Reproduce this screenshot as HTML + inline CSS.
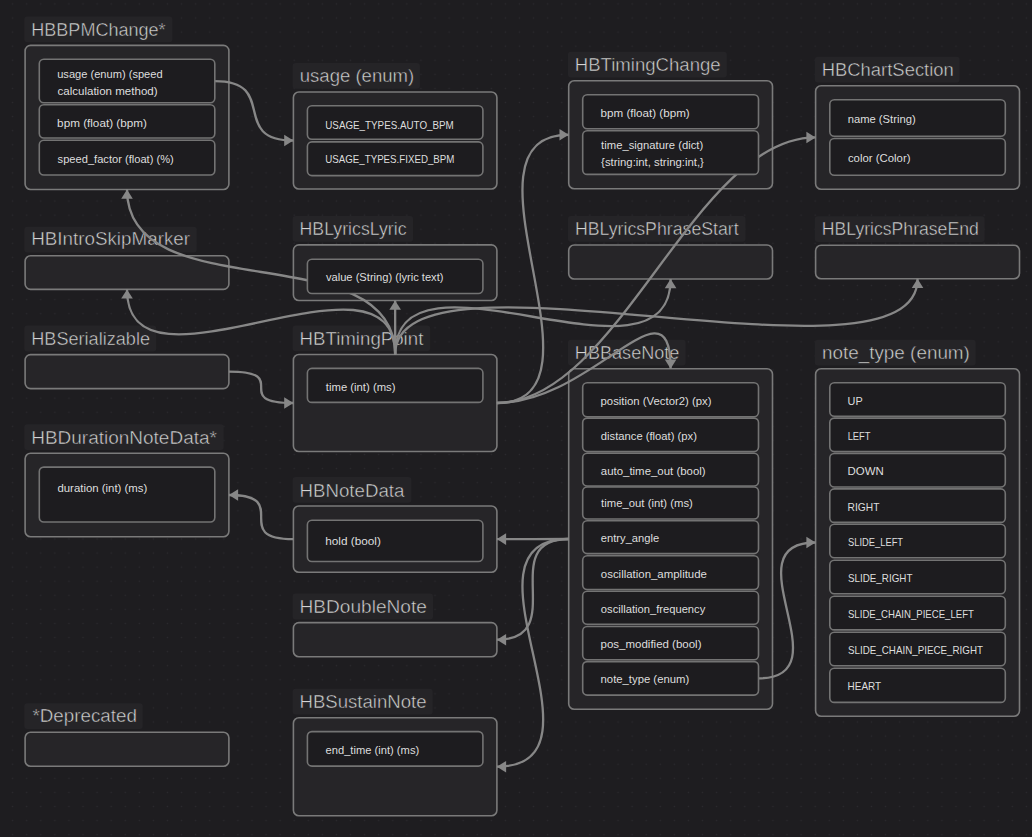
<!DOCTYPE html>
<html><head><meta charset="utf-8"><title>Canvas</title>
<style>
html,body{margin:0;padding:0;background:#1e1d20;width:1032px;height:837px;overflow:hidden}
svg{display:block;font-family:"Liberation Sans",sans-serif}
</style></head><body>
<svg width="1032" height="837" viewBox="0 0 1032 837">
<defs><pattern id="dots" x="5.6" y="-3.1" width="14.08" height="14.08" patternUnits="userSpaceOnUse"><circle cx="7" cy="7" r="0.75" fill="#2b2a2e"/></pattern></defs>
<rect width="1032" height="837" fill="#1e1d20"/>
<rect width="1032" height="837" fill="url(#dots)"/>
<g><rect x="24.30" y="16.40" width="148.10" height="25.8" rx="3" fill="#252427"/><rect x="25.10" y="45.40" width="203.80" height="144.10" rx="5.5" fill="#262528" stroke="#7a7a7a" stroke-width="1.6"/><rect x="292.60" y="63.00" width="127.30" height="25.8" rx="3" fill="#252427"/><rect x="293.40" y="92.00" width="203.50" height="97.00" rx="5.5" fill="#262528" stroke="#7a7a7a" stroke-width="1.6"/><rect x="567.90" y="51.70" width="158.90" height="25.8" rx="3" fill="#252427"/><rect x="568.70" y="80.70" width="203.80" height="108.10" rx="5.5" fill="#262528" stroke="#7a7a7a" stroke-width="1.6"/><rect x="814.80" y="56.70" width="144.80" height="25.8" rx="3" fill="#252427"/><rect x="815.60" y="85.70" width="203.90" height="103.50" rx="5.5" fill="#262528" stroke="#7a7a7a" stroke-width="1.6"/><rect x="24.30" y="226.70" width="172.40" height="25.8" rx="3" fill="#252427"/><rect x="25.10" y="255.70" width="203.80" height="33.70" rx="5.5" fill="#262528" stroke="#7a7a7a" stroke-width="1.6"/><rect x="292.60" y="215.90" width="120.50" height="25.8" rx="3" fill="#252427"/><rect x="293.40" y="244.90" width="203.50" height="55.60" rx="5.5" fill="#262528" stroke="#7a7a7a" stroke-width="1.6"/><rect x="567.90" y="216.00" width="177.60" height="25.8" rx="3" fill="#252427"/><rect x="568.70" y="245.00" width="203.80" height="34.00" rx="5.5" fill="#262528" stroke="#7a7a7a" stroke-width="1.6"/><rect x="814.80" y="216.20" width="169.80" height="25.8" rx="3" fill="#252427"/><rect x="815.60" y="245.20" width="203.90" height="33.60" rx="5.5" fill="#262528" stroke="#7a7a7a" stroke-width="1.6"/><rect x="24.30" y="325.60" width="131.90" height="25.8" rx="3" fill="#252427"/><rect x="25.10" y="354.60" width="203.80" height="34.00" rx="5.5" fill="#262528" stroke="#7a7a7a" stroke-width="1.6"/><rect x="292.60" y="325.50" width="137.60" height="25.8" rx="3" fill="#252427"/><rect x="293.40" y="354.50" width="203.50" height="97.00" rx="5.5" fill="#262528" stroke="#7a7a7a" stroke-width="1.6"/><rect x="567.90" y="339.70" width="117.70" height="25.8" rx="3" fill="#252427"/><rect x="568.70" y="368.70" width="203.80" height="340.60" rx="5.5" fill="#262528" stroke="#7a7a7a" stroke-width="1.6"/><rect x="814.80" y="339.70" width="160.90" height="25.8" rx="3" fill="#252427"/><rect x="815.60" y="368.70" width="203.90" height="347.60" rx="5.5" fill="#262528" stroke="#7a7a7a" stroke-width="1.6"/><rect x="24.30" y="424.30" width="199.40" height="25.8" rx="3" fill="#252427"/><rect x="25.10" y="453.30" width="203.80" height="83.40" rx="5.5" fill="#262528" stroke="#7a7a7a" stroke-width="1.6"/><rect x="292.60" y="477.00" width="118.80" height="25.8" rx="3" fill="#252427"/><rect x="293.40" y="506.00" width="203.50" height="66.20" rx="5.5" fill="#262528" stroke="#7a7a7a" stroke-width="1.6"/><rect x="292.60" y="593.60" width="140.40" height="25.8" rx="3" fill="#252427"/><rect x="293.40" y="622.60" width="203.50" height="34.20" rx="5.5" fill="#262528" stroke="#7a7a7a" stroke-width="1.6"/><rect x="292.60" y="688.70" width="140.10" height="25.8" rx="3" fill="#252427"/><rect x="293.40" y="717.70" width="203.50" height="98.00" rx="5.5" fill="#262528" stroke="#7a7a7a" stroke-width="1.6"/><rect x="24.30" y="703.20" width="118.40" height="25.8" rx="3" fill="#252427"/><rect x="25.10" y="732.20" width="203.80" height="34.00" rx="5.5" fill="#262528" stroke="#7a7a7a" stroke-width="1.6"/></g>
<g><text x="31.26" y="35.90" font-size="18" fill="#d4d4d4" textLength="134.39" lengthAdjust="spacingAndGlyphs" stroke="#252427" stroke-width="0.45">HBBPMChange*</text><text x="299.80" y="81.80" font-size="18" fill="#d4d4d4" textLength="114.31" lengthAdjust="spacingAndGlyphs" stroke="#252427" stroke-width="0.45">usage (enum)</text><text x="574.81" y="71.10" font-size="18" fill="#d4d4d4" textLength="145.84" lengthAdjust="spacingAndGlyphs" stroke="#252427" stroke-width="0.45">HBTimingChange</text><text x="821.73" y="76.20" font-size="18" fill="#d4d4d4" textLength="132.07" lengthAdjust="spacingAndGlyphs" stroke="#252427" stroke-width="0.45">HBChartSection</text><text x="31.20" y="245.40" font-size="18" fill="#d4d4d4" textLength="158.83" lengthAdjust="spacingAndGlyphs" stroke="#252427" stroke-width="0.45">HBIntroSkipMarker</text><text x="299.58" y="234.60" font-size="18" fill="#d4d4d4" textLength="106.92" lengthAdjust="spacingAndGlyphs" stroke="#252427" stroke-width="0.45">HBLyricsLyric</text><text x="574.88" y="234.70" font-size="18" fill="#d4d4d4" textLength="163.78" lengthAdjust="spacingAndGlyphs" stroke="#252427" stroke-width="0.45">HBLyricsPhraseStart</text><text x="821.79" y="234.90" font-size="18" fill="#d4d4d4" textLength="156.98" lengthAdjust="spacingAndGlyphs" stroke="#252427" stroke-width="0.45">HBLyricsPhraseEnd</text><text x="31.25" y="345.00" font-size="18" fill="#d4d4d4" textLength="118.74" lengthAdjust="spacingAndGlyphs" stroke="#252427" stroke-width="0.45">HBSerializable</text><text x="299.51" y="344.70" font-size="18" fill="#d4d4d4" textLength="123.83" lengthAdjust="spacingAndGlyphs" stroke="#252427" stroke-width="0.45">HBTimingPoint</text><text x="574.85" y="359.00" font-size="18" fill="#d4d4d4" textLength="104.58" lengthAdjust="spacingAndGlyphs" stroke="#252427" stroke-width="0.45">HBBaseNote</text><text x="821.97" y="359.10" font-size="18" fill="#d4d4d4" textLength="147.92" lengthAdjust="spacingAndGlyphs" stroke="#252427" stroke-width="0.45">note_type (enum)</text><text x="31.18" y="443.80" font-size="18" fill="#d4d4d4" textLength="185.77" lengthAdjust="spacingAndGlyphs" stroke="#252427" stroke-width="0.45">HBDurationNoteData*</text><text x="299.51" y="497.10" font-size="18" fill="#d4d4d4" textLength="104.87" lengthAdjust="spacingAndGlyphs" stroke="#252427" stroke-width="0.45">HBNoteData</text><text x="299.47" y="612.70" font-size="18" fill="#d4d4d4" textLength="127.40" lengthAdjust="spacingAndGlyphs" stroke="#252427" stroke-width="0.45">HBDoubleNote</text><text x="299.51" y="708.00" font-size="18" fill="#d4d4d4" textLength="127.06" lengthAdjust="spacingAndGlyphs" stroke="#252427" stroke-width="0.45">HBSustainNote</text><text x="32.42" y="721.70" font-size="18" fill="#d4d4d4" textLength="104.49" lengthAdjust="spacingAndGlyphs" stroke="#252427" stroke-width="0.45">*Deprecated</text></g>
<g fill="none" stroke="#878787" stroke-width="2.3"><path d="M214.80,81.05 C279.80,81.05 228.40,140.50 293.40,140.50" /><polygon points="293.40,140.50 284.20,134.70 284.20,146.30" fill="#878787" stroke="none"/><path d="M395.15,354.50 C395.15,232.50 127.00,311.50 127.00,189.50" /><polygon points="127.00,189.50 121.20,198.70 132.80,198.70" fill="#878787" stroke="none"/><path d="M395.15,354.50 C395.15,232.50 127.00,411.40 127.00,289.40" /><polygon points="127.00,289.40 121.20,298.60 132.80,298.60" fill="#878787" stroke="none"/><path d="M395.15,354.50 C395.15,289.50 395.15,365.50 395.15,300.50" /><polygon points="395.15,300.50 389.35,309.70 400.95,309.70" fill="#878787" stroke="none"/><path d="M395.15,354.50 C395.15,232.50 670.60,401.00 670.60,279.00" /><polygon points="670.60,279.00 664.80,288.20 676.40,288.20" fill="#878787" stroke="none"/><path d="M395.15,354.50 C395.15,232.50 917.55,400.80 917.55,278.80" /><polygon points="917.55,278.80 911.75,288.00 923.35,288.00" fill="#878787" stroke="none"/><path d="M496.90,403.00 C618.90,403.00 446.70,134.75 568.70,134.75" /><polygon points="568.70,134.75 559.50,128.95 559.50,140.55" fill="#878787" stroke="none"/><path d="M496.90,403.00 C618.90,403.00 693.60,137.45 815.60,137.45" /><polygon points="815.60,137.45 806.40,131.65 806.40,143.25" fill="#878787" stroke="none"/><path d="M496.90,403.00 C592.90,403.00 670.60,272.70 670.60,368.70" /><polygon points="670.60,368.70 676.40,359.50 664.80,359.50" fill="#878787" stroke="none"/><path d="M228.90,371.60 C293.90,371.60 228.40,403.00 293.40,403.00" /><polygon points="293.40,403.00 284.20,397.20 284.20,408.80" fill="#878787" stroke="none"/><path d="M293.40,539.10 C228.40,539.10 293.90,495.00 228.90,495.00" /><polygon points="228.90,495.00 238.10,500.80 238.10,489.20" fill="#878787" stroke="none"/><path d="M568.70,539.00 C503.70,539.00 561.90,539.10 496.90,539.10" /><polygon points="496.90,539.10 506.10,544.90 506.10,533.30" fill="#878787" stroke="none"/><path d="M568.70,539.00 C494.49,539.00 571.11,639.70 496.90,639.70" /><polygon points="496.90,639.70 506.10,645.50 506.10,633.90" fill="#878787" stroke="none"/><path d="M568.70,539.00 C446.70,539.00 618.90,766.70 496.90,766.70" /><polygon points="496.90,766.70 506.10,772.50 506.10,760.90" fill="#878787" stroke="none"/><path d="M758.50,678.35 C846.50,678.35 727.60,542.50 815.60,542.50" /><polygon points="815.60,542.50 806.40,536.70 806.40,548.30" fill="#878787" stroke="none"/></g>
<g><rect x="39.30" y="59.30" width="175.50" height="43.50" rx="4.5" fill="#1d1c1f" stroke="#737373" stroke-width="1.6"/><text x="57.18" y="77.70" font-size="11" fill="#dedede" textLength="105.45" lengthAdjust="spacingAndGlyphs">usage (enum) (speed</text><text x="57.44" y="94.50" font-size="11" fill="#dedede" textLength="100.17" lengthAdjust="spacingAndGlyphs">calculation method)</text><rect x="39.30" y="104.70" width="175.50" height="33.30" rx="4.5" fill="#1d1c1f" stroke="#737373" stroke-width="1.6"/><text x="57.14" y="126.70" font-size="11" fill="#dedede" textLength="89.71" lengthAdjust="spacingAndGlyphs">bpm (float) (bpm)</text><rect x="39.30" y="140.30" width="175.50" height="34.70" rx="4.5" fill="#1d1c1f" stroke="#737373" stroke-width="1.6"/><text x="57.57" y="162.60" font-size="11" fill="#dedede" textLength="116.25" lengthAdjust="spacingAndGlyphs">speed_factor (float) (%)</text><rect x="307.40" y="105.80" width="175.50" height="33.40" rx="4.5" fill="#1d1c1f" stroke="#737373" stroke-width="1.6"/><text x="325.26" y="128.50" font-size="11" fill="#dedede" textLength="128.54" lengthAdjust="spacingAndGlyphs">USAGE_TYPES.AUTO_BPM</text><rect x="307.40" y="141.90" width="175.50" height="33.70" rx="4.5" fill="#1d1c1f" stroke="#737373" stroke-width="1.6"/><text x="325.27" y="163.40" font-size="11" fill="#dedede" textLength="129.13" lengthAdjust="spacingAndGlyphs">USAGE_TYPES.FIXED_BPM</text><rect x="582.70" y="94.70" width="175.80" height="34.10" rx="4.5" fill="#1d1c1f" stroke="#737373" stroke-width="1.6"/><text x="600.54" y="116.70" font-size="11" fill="#dedede" textLength="89.20" lengthAdjust="spacingAndGlyphs">bpm (float) (bpm)</text><rect x="582.70" y="130.70" width="175.80" height="43.70" rx="4.5" fill="#1d1c1f" stroke="#737373" stroke-width="1.6"/><text x="601.13" y="148.80" font-size="11" fill="#dedede" textLength="102.09" lengthAdjust="spacingAndGlyphs">time_signature (dict)</text><text x="601.13" y="165.60" font-size="11" fill="#dedede" textLength="102.70" lengthAdjust="spacingAndGlyphs">{string:int, string:int,}</text><rect x="829.80" y="99.80" width="175.50" height="36.40" rx="4.5" fill="#1d1c1f" stroke="#737373" stroke-width="1.6"/><text x="847.67" y="122.50" font-size="11" fill="#dedede" textLength="68.04" lengthAdjust="spacingAndGlyphs">name (String)</text><rect x="829.80" y="138.50" width="175.50" height="36.80" rx="4.5" fill="#1d1c1f" stroke="#737373" stroke-width="1.6"/><text x="847.95" y="161.50" font-size="11" fill="#dedede" textLength="62.55" lengthAdjust="spacingAndGlyphs">color (Color)</text><rect x="307.40" y="259.30" width="175.50" height="34.20" rx="4.5" fill="#1d1c1f" stroke="#737373" stroke-width="1.6"/><text x="325.94" y="281.00" font-size="11" fill="#dedede" textLength="117.56" lengthAdjust="spacingAndGlyphs">value (String) (lyric text)</text><rect x="307.40" y="368.40" width="175.50" height="34.00" rx="4.5" fill="#1d1c1f" stroke="#737373" stroke-width="1.6"/><text x="325.83" y="391.00" font-size="11" fill="#dedede" textLength="69.66" lengthAdjust="spacingAndGlyphs">time (int) (ms)</text><rect x="582.70" y="382.70" width="175.80" height="34.00" rx="4.5" fill="#1d1c1f" stroke="#737373" stroke-width="1.6"/><text x="600.56" y="405.40" font-size="11" fill="#dedede" textLength="110.94" lengthAdjust="spacingAndGlyphs">position (Vector2) (px)</text><rect x="582.70" y="418.10" width="175.80" height="33.50" rx="4.5" fill="#1d1c1f" stroke="#737373" stroke-width="1.6"/><text x="600.85" y="440.00" font-size="11" fill="#dedede" textLength="96.07" lengthAdjust="spacingAndGlyphs">distance (float) (px)</text><rect x="582.70" y="453.20" width="175.80" height="32.80" rx="4.5" fill="#1d1c1f" stroke="#737373" stroke-width="1.6"/><text x="600.84" y="475.20" font-size="11" fill="#dedede" textLength="104.77" lengthAdjust="spacingAndGlyphs">auto_time_out (bool)</text><rect x="582.70" y="487.00" width="175.80" height="32.00" rx="4.5" fill="#1d1c1f" stroke="#737373" stroke-width="1.6"/><text x="601.13" y="507.00" font-size="11" fill="#dedede" textLength="91.78" lengthAdjust="spacingAndGlyphs">time_out (int) (ms)</text><rect x="582.70" y="520.70" width="175.80" height="32.90" rx="4.5" fill="#1d1c1f" stroke="#737373" stroke-width="1.6"/><text x="600.85" y="541.70" font-size="11" fill="#dedede" textLength="58.36" lengthAdjust="spacingAndGlyphs">entry_angle</text><rect x="582.70" y="555.80" width="175.80" height="33.70" rx="4.5" fill="#1d1c1f" stroke="#737373" stroke-width="1.6"/><text x="600.84" y="577.90" font-size="11" fill="#dedede" textLength="106.11" lengthAdjust="spacingAndGlyphs">oscillation_amplitude</text><rect x="582.70" y="591.20" width="175.80" height="33.00" rx="4.5" fill="#1d1c1f" stroke="#737373" stroke-width="1.6"/><text x="600.85" y="612.80" font-size="11" fill="#dedede" textLength="104.44" lengthAdjust="spacingAndGlyphs">oscillation_frequency</text><rect x="582.70" y="626.50" width="175.80" height="33.30" rx="4.5" fill="#1d1c1f" stroke="#737373" stroke-width="1.6"/><text x="600.55" y="648.00" font-size="11" fill="#dedede" textLength="100.97" lengthAdjust="spacingAndGlyphs">pos_modified (bool)</text><rect x="582.70" y="661.60" width="175.80" height="33.50" rx="4.5" fill="#1d1c1f" stroke="#737373" stroke-width="1.6"/><text x="600.56" y="683.00" font-size="11" fill="#dedede" textLength="88.65" lengthAdjust="spacingAndGlyphs">note_type (enum)</text><rect x="829.80" y="382.70" width="175.50" height="33.50" rx="4.5" fill="#1d1c1f" stroke="#737373" stroke-width="1.6"/><text x="847.58" y="405.20" font-size="11" fill="#dedede" textLength="15.10" lengthAdjust="spacingAndGlyphs">UP</text><rect x="829.80" y="418.10" width="175.50" height="33.50" rx="4.5" fill="#1d1c1f" stroke="#737373" stroke-width="1.6"/><text x="847.65" y="440.10" font-size="11" fill="#dedede" textLength="22.94" lengthAdjust="spacingAndGlyphs">LEFT</text><rect x="829.80" y="453.50" width="175.50" height="33.50" rx="4.5" fill="#1d1c1f" stroke="#737373" stroke-width="1.6"/><text x="847.48" y="475.30" font-size="11" fill="#dedede" textLength="36.24" lengthAdjust="spacingAndGlyphs">DOWN</text><rect x="829.80" y="488.90" width="175.50" height="33.50" rx="4.5" fill="#1d1c1f" stroke="#737373" stroke-width="1.6"/><text x="847.58" y="510.90" font-size="11" fill="#dedede" textLength="31.83" lengthAdjust="spacingAndGlyphs">RIGHT</text><rect x="829.80" y="524.30" width="175.50" height="33.50" rx="4.5" fill="#1d1c1f" stroke="#737373" stroke-width="1.6"/><text x="847.98" y="546.00" font-size="11" fill="#dedede" textLength="55.12" lengthAdjust="spacingAndGlyphs">SLIDE_LEFT</text><rect x="829.80" y="560.30" width="175.50" height="33.40" rx="4.5" fill="#1d1c1f" stroke="#737373" stroke-width="1.6"/><text x="847.96" y="582.20" font-size="11" fill="#dedede" textLength="64.46" lengthAdjust="spacingAndGlyphs">SLIDE_RIGHT</text><rect x="829.80" y="596.20" width="175.50" height="33.70" rx="4.5" fill="#1d1c1f" stroke="#737373" stroke-width="1.6"/><text x="847.97" y="618.10" font-size="11" fill="#dedede" textLength="125.94" lengthAdjust="spacingAndGlyphs">SLIDE_CHAIN_PIECE_LEFT</text><rect x="829.80" y="632.30" width="175.50" height="33.50" rx="4.5" fill="#1d1c1f" stroke="#737373" stroke-width="1.6"/><text x="847.96" y="654.30" font-size="11" fill="#dedede" textLength="135.06" lengthAdjust="spacingAndGlyphs">SLIDE_CHAIN_PIECE_RIGHT</text><rect x="829.80" y="668.20" width="175.50" height="34.20" rx="4.5" fill="#1d1c1f" stroke="#737373" stroke-width="1.6"/><text x="847.60" y="690.20" font-size="11" fill="#dedede" textLength="33.51" lengthAdjust="spacingAndGlyphs">HEART</text><rect x="39.30" y="467.10" width="175.50" height="54.90" rx="4.5" fill="#1d1c1f" stroke="#737373" stroke-width="1.6"/><text x="57.44" y="491.80" font-size="11" fill="#dedede" textLength="89.85" lengthAdjust="spacingAndGlyphs">duration (int) (ms)</text><rect x="307.40" y="520.30" width="175.50" height="41.20" rx="4.5" fill="#1d1c1f" stroke="#737373" stroke-width="1.6"/><text x="325.17" y="544.50" font-size="11" fill="#dedede" textLength="55.69" lengthAdjust="spacingAndGlyphs">hold (bool)</text><rect x="307.40" y="731.60" width="175.50" height="34.50" rx="4.5" fill="#1d1c1f" stroke="#737373" stroke-width="1.6"/><text x="325.55" y="754.00" font-size="11" fill="#dedede" textLength="93.63" lengthAdjust="spacingAndGlyphs">end_time (int) (ms)</text></g>
</svg>
</body></html>
